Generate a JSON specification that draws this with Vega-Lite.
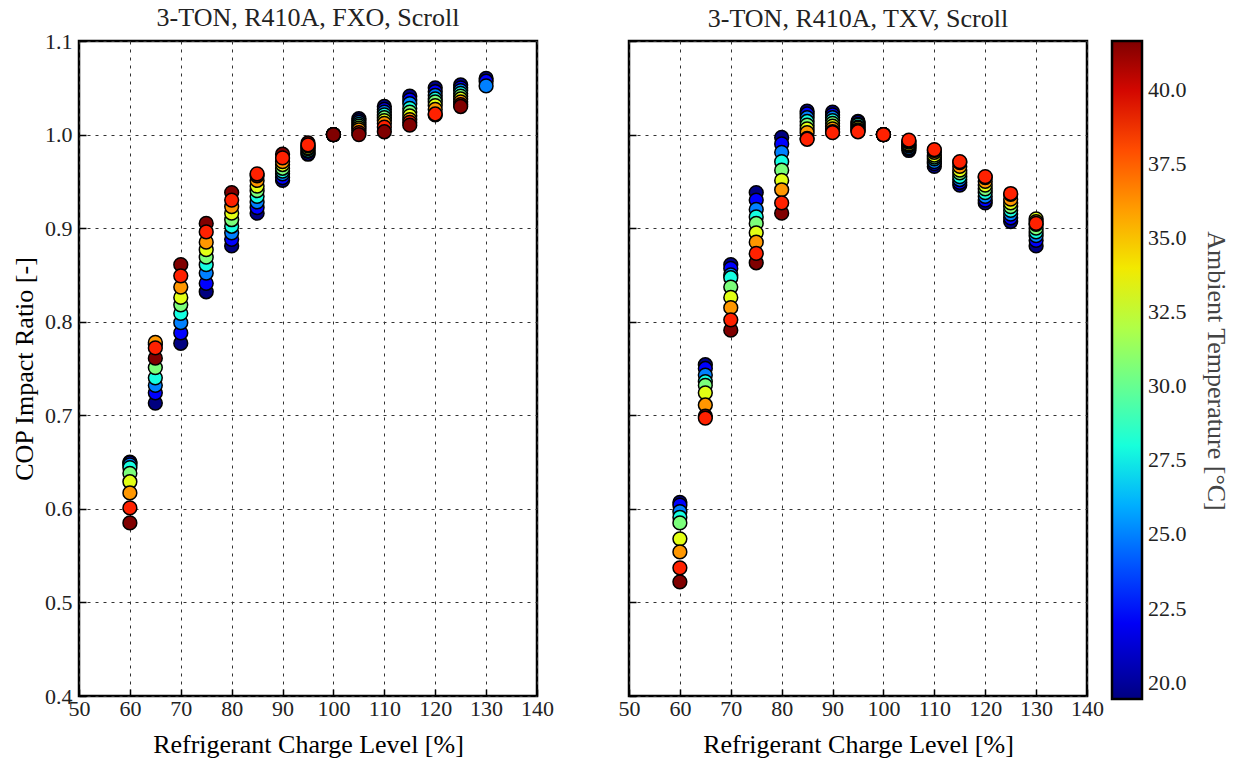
{
"$schema": "https://vega.github.io/schema/vega-lite/v6.json",
"background": "white",
"padding": {"left": 10, "top": 3, "right": 5, "bottom": 5},
"spacing": 61,
"config": {
  "font": "Liberation Serif",
  "view": {"stroke": "black", "strokeWidth": 2.5},
  "axis": {"labelFont": "Liberation Serif", "labelFontSize": 22, "labelColor": "#222", "labelFlush": false, "titleFont": "Liberation Serif", "titleFontSize": 26, "titleFontWeight": "normal", "titleColor": "black", "grid": true, "gridDash": [3, 5], "gridColor": "#333", "gridWidth": 1, "domain": false, "tickColor": "black", "tickSize": -7, "tickWidth": 1.5, "labelPadding": 9},
  "title": {"font": "Liberation Serif", "fontSize": 26, "fontWeight": "normal", "color": "#222", "frame": "group"},
  "legend": {"labelFont": "Liberation Serif", "titleFont": "Liberation Serif"}
},
"data": {"values": [
{"sys":"FXO","charge":60,"temp":19.44,"cop":0.650},{"sys":"FXO","charge":60,"temp":22.22,"cop":0.649},{"sys":"FXO","charge":60,"temp":25.0,"cop":0.647},{"sys":"FXO","charge":60,"temp":27.78,"cop":0.644},{"sys":"FXO","charge":60,"temp":30.56,"cop":0.638},{"sys":"FXO","charge":60,"temp":33.33,"cop":0.629},{"sys":"FXO","charge":60,"temp":36.11,"cop":0.617},{"sys":"FXO","charge":60,"temp":41.67,"cop":0.585},{"sys":"FXO","charge":60,"temp":38.89,"cop":0.601},
{"sys":"FXO","charge":65,"temp":19.44,"cop":0.713},{"sys":"FXO","charge":65,"temp":22.22,"cop":0.724},{"sys":"FXO","charge":65,"temp":25.0,"cop":0.732},{"sys":"FXO","charge":65,"temp":27.78,"cop":0.740},{"sys":"FXO","charge":65,"temp":30.56,"cop":0.751},{"sys":"FXO","charge":65,"temp":33.33,"cop":0.776},{"sys":"FXO","charge":65,"temp":36.11,"cop":0.778},{"sys":"FXO","charge":65,"temp":41.67,"cop":0.761},{"sys":"FXO","charge":65,"temp":38.89,"cop":0.772},
{"sys":"FXO","charge":70,"temp":19.44,"cop":0.777},{"sys":"FXO","charge":70,"temp":22.22,"cop":0.788},{"sys":"FXO","charge":70,"temp":25.0,"cop":0.799},{"sys":"FXO","charge":70,"temp":27.78,"cop":0.809},{"sys":"FXO","charge":70,"temp":30.56,"cop":0.818},{"sys":"FXO","charge":70,"temp":33.33,"cop":0.826},{"sys":"FXO","charge":70,"temp":36.11,"cop":0.837},{"sys":"FXO","charge":70,"temp":41.67,"cop":0.861},{"sys":"FXO","charge":70,"temp":38.89,"cop":0.849},
{"sys":"FXO","charge":75,"temp":19.44,"cop":0.832},{"sys":"FXO","charge":75,"temp":22.22,"cop":0.841},{"sys":"FXO","charge":75,"temp":25.0,"cop":0.852},{"sys":"FXO","charge":75,"temp":27.78,"cop":0.861},{"sys":"FXO","charge":75,"temp":30.56,"cop":0.869},{"sys":"FXO","charge":75,"temp":33.33,"cop":0.877},{"sys":"FXO","charge":75,"temp":36.11,"cop":0.885},{"sys":"FXO","charge":75,"temp":41.67,"cop":0.905},{"sys":"FXO","charge":75,"temp":38.89,"cop":0.896},
{"sys":"FXO","charge":80,"temp":19.44,"cop":0.881},{"sys":"FXO","charge":80,"temp":22.22,"cop":0.888},{"sys":"FXO","charge":80,"temp":25.0,"cop":0.895},{"sys":"FXO","charge":80,"temp":27.78,"cop":0.902},{"sys":"FXO","charge":80,"temp":30.56,"cop":0.909},{"sys":"FXO","charge":80,"temp":33.33,"cop":0.916},{"sys":"FXO","charge":80,"temp":36.11,"cop":0.923},{"sys":"FXO","charge":80,"temp":41.67,"cop":0.938},{"sys":"FXO","charge":80,"temp":38.89,"cop":0.930},
{"sys":"FXO","charge":85,"temp":19.44,"cop":0.916},{"sys":"FXO","charge":85,"temp":22.22,"cop":0.922},{"sys":"FXO","charge":85,"temp":25.0,"cop":0.928},{"sys":"FXO","charge":85,"temp":27.78,"cop":0.934},{"sys":"FXO","charge":85,"temp":30.56,"cop":0.940},{"sys":"FXO","charge":85,"temp":33.33,"cop":0.945},{"sys":"FXO","charge":85,"temp":36.11,"cop":0.951},{"sys":"FXO","charge":85,"temp":41.67,"cop":0.956},{"sys":"FXO","charge":85,"temp":38.89,"cop":0.958},
{"sys":"FXO","charge":90,"temp":19.44,"cop":0.951},{"sys":"FXO","charge":90,"temp":22.22,"cop":0.954},{"sys":"FXO","charge":90,"temp":25.0,"cop":0.958},{"sys":"FXO","charge":90,"temp":27.78,"cop":0.961},{"sys":"FXO","charge":90,"temp":30.56,"cop":0.964},{"sys":"FXO","charge":90,"temp":33.33,"cop":0.968},{"sys":"FXO","charge":90,"temp":36.11,"cop":0.971},{"sys":"FXO","charge":90,"temp":41.67,"cop":0.979},{"sys":"FXO","charge":90,"temp":38.89,"cop":0.975},
{"sys":"FXO","charge":95,"temp":19.44,"cop":0.979},{"sys":"FXO","charge":95,"temp":22.22,"cop":0.980},{"sys":"FXO","charge":95,"temp":25.0,"cop":0.982},{"sys":"FXO","charge":95,"temp":27.78,"cop":0.983},{"sys":"FXO","charge":95,"temp":30.56,"cop":0.985},{"sys":"FXO","charge":95,"temp":33.33,"cop":0.986},{"sys":"FXO","charge":95,"temp":36.11,"cop":0.988},{"sys":"FXO","charge":95,"temp":41.67,"cop":0.991},{"sys":"FXO","charge":95,"temp":38.89,"cop":0.989},
{"sys":"FXO","charge":100,"temp":19.44,"cop":1.0},{"sys":"FXO","charge":100,"temp":22.22,"cop":1.0},{"sys":"FXO","charge":100,"temp":25.0,"cop":1.0},{"sys":"FXO","charge":100,"temp":27.78,"cop":1.0},{"sys":"FXO","charge":100,"temp":30.56,"cop":1.0},{"sys":"FXO","charge":100,"temp":33.33,"cop":1.0},{"sys":"FXO","charge":100,"temp":36.11,"cop":1.0},{"sys":"FXO","charge":100,"temp":38.89,"cop":1.0},{"sys":"FXO","charge":100,"temp":41.67,"cop":1.0},
{"sys":"FXO","charge":105,"temp":19.44,"cop":1.017},{"sys":"FXO","charge":105,"temp":22.22,"cop":1.015},{"sys":"FXO","charge":105,"temp":25.0,"cop":1.013},{"sys":"FXO","charge":105,"temp":27.78,"cop":1.011},{"sys":"FXO","charge":105,"temp":30.56,"cop":1.009},{"sys":"FXO","charge":105,"temp":33.33,"cop":1.007},{"sys":"FXO","charge":105,"temp":36.11,"cop":1.005},{"sys":"FXO","charge":105,"temp":38.89,"cop":1.002},{"sys":"FXO","charge":105,"temp":41.67,"cop":1.000},
{"sys":"FXO","charge":110,"temp":19.44,"cop":1.030},{"sys":"FXO","charge":110,"temp":22.22,"cop":1.027},{"sys":"FXO","charge":110,"temp":25.0,"cop":1.024},{"sys":"FXO","charge":110,"temp":27.78,"cop":1.021},{"sys":"FXO","charge":110,"temp":30.56,"cop":1.018},{"sys":"FXO","charge":110,"temp":33.33,"cop":1.015},{"sys":"FXO","charge":110,"temp":36.11,"cop":1.012},{"sys":"FXO","charge":110,"temp":38.89,"cop":1.008},{"sys":"FXO","charge":110,"temp":41.67,"cop":1.003},
{"sys":"FXO","charge":115,"temp":19.44,"cop":1.041},{"sys":"FXO","charge":115,"temp":22.22,"cop":1.037},{"sys":"FXO","charge":115,"temp":25.0,"cop":1.033},{"sys":"FXO","charge":115,"temp":27.78,"cop":1.028},{"sys":"FXO","charge":115,"temp":30.56,"cop":1.024},{"sys":"FXO","charge":115,"temp":33.33,"cop":1.020},{"sys":"FXO","charge":115,"temp":36.11,"cop":1.016},{"sys":"FXO","charge":115,"temp":38.89,"cop":1.013},{"sys":"FXO","charge":115,"temp":41.67,"cop":1.010},
{"sys":"FXO","charge":120,"temp":19.44,"cop":1.050},{"sys":"FXO","charge":120,"temp":22.22,"cop":1.046},{"sys":"FXO","charge":120,"temp":25.0,"cop":1.042},{"sys":"FXO","charge":120,"temp":27.78,"cop":1.038},{"sys":"FXO","charge":120,"temp":30.56,"cop":1.035},{"sys":"FXO","charge":120,"temp":33.33,"cop":1.031},{"sys":"FXO","charge":120,"temp":36.11,"cop":1.027},{"sys":"FXO","charge":120,"temp":41.67,"cop":1.021},{"sys":"FXO","charge":120,"temp":38.89,"cop":1.022},
{"sys":"FXO","charge":125,"temp":19.44,"cop":1.053},{"sys":"FXO","charge":125,"temp":22.22,"cop":1.050},{"sys":"FXO","charge":125,"temp":25.0,"cop":1.047},{"sys":"FXO","charge":125,"temp":27.78,"cop":1.044},{"sys":"FXO","charge":125,"temp":30.56,"cop":1.041},{"sys":"FXO","charge":125,"temp":33.33,"cop":1.038},{"sys":"FXO","charge":125,"temp":36.11,"cop":1.035},{"sys":"FXO","charge":125,"temp":38.89,"cop":1.032},{"sys":"FXO","charge":125,"temp":41.67,"cop":1.030},
{"sys":"FXO","charge":130,"temp":19.44,"cop":1.060},{"sys":"FXO","charge":130,"temp":22.22,"cop":1.057},{"sys":"FXO","charge":130,"temp":25.0,"cop":1.052},
{"sys":"TXV","charge":60,"temp":19.44,"cop":0.607},{"sys":"TXV","charge":60,"temp":22.22,"cop":0.604},{"sys":"TXV","charge":60,"temp":25.0,"cop":0.597},{"sys":"TXV","charge":60,"temp":27.78,"cop":0.591},{"sys":"TXV","charge":60,"temp":30.56,"cop":0.585},{"sys":"TXV","charge":60,"temp":33.33,"cop":0.568},{"sys":"TXV","charge":60,"temp":36.11,"cop":0.554},{"sys":"TXV","charge":60,"temp":41.67,"cop":0.522},{"sys":"TXV","charge":60,"temp":38.89,"cop":0.537},
{"sys":"TXV","charge":65,"temp":19.44,"cop":0.754},{"sys":"TXV","charge":65,"temp":22.22,"cop":0.750},{"sys":"TXV","charge":65,"temp":25.0,"cop":0.743},{"sys":"TXV","charge":65,"temp":27.78,"cop":0.736},{"sys":"TXV","charge":65,"temp":30.56,"cop":0.732},{"sys":"TXV","charge":65,"temp":33.33,"cop":0.724},{"sys":"TXV","charge":65,"temp":36.11,"cop":0.711},{"sys":"TXV","charge":65,"temp":41.67,"cop":0.699},{"sys":"TXV","charge":65,"temp":38.89,"cop":0.697},
{"sys":"TXV","charge":70,"temp":19.44,"cop":0.861},{"sys":"TXV","charge":70,"temp":22.22,"cop":0.857},{"sys":"TXV","charge":70,"temp":25.0,"cop":0.850},{"sys":"TXV","charge":70,"temp":27.78,"cop":0.847},{"sys":"TXV","charge":70,"temp":30.56,"cop":0.837},{"sys":"TXV","charge":70,"temp":33.33,"cop":0.826},{"sys":"TXV","charge":70,"temp":36.11,"cop":0.815},{"sys":"TXV","charge":70,"temp":41.67,"cop":0.791},{"sys":"TXV","charge":70,"temp":38.89,"cop":0.802},
{"sys":"TXV","charge":75,"temp":19.44,"cop":0.938},{"sys":"TXV","charge":75,"temp":22.22,"cop":0.930},{"sys":"TXV","charge":75,"temp":25.0,"cop":0.920},{"sys":"TXV","charge":75,"temp":27.78,"cop":0.912},{"sys":"TXV","charge":75,"temp":30.56,"cop":0.905},{"sys":"TXV","charge":75,"temp":33.33,"cop":0.895},{"sys":"TXV","charge":75,"temp":36.11,"cop":0.885},{"sys":"TXV","charge":75,"temp":41.67,"cop":0.863},{"sys":"TXV","charge":75,"temp":38.89,"cop":0.873},
{"sys":"TXV","charge":80,"temp":19.44,"cop":0.997},{"sys":"TXV","charge":80,"temp":22.22,"cop":0.990},{"sys":"TXV","charge":80,"temp":25.0,"cop":0.981},{"sys":"TXV","charge":80,"temp":27.78,"cop":0.971},{"sys":"TXV","charge":80,"temp":30.56,"cop":0.962},{"sys":"TXV","charge":80,"temp":33.33,"cop":0.951},{"sys":"TXV","charge":80,"temp":36.11,"cop":0.941},{"sys":"TXV","charge":80,"temp":41.67,"cop":0.916},{"sys":"TXV","charge":80,"temp":38.89,"cop":0.927},
{"sys":"TXV","charge":85,"temp":19.44,"cop":1.025},{"sys":"TXV","charge":85,"temp":22.22,"cop":1.022},{"sys":"TXV","charge":85,"temp":25.0,"cop":1.018},{"sys":"TXV","charge":85,"temp":27.78,"cop":1.014},{"sys":"TXV","charge":85,"temp":30.56,"cop":1.010},{"sys":"TXV","charge":85,"temp":33.33,"cop":1.006},{"sys":"TXV","charge":85,"temp":36.11,"cop":1.002},{"sys":"TXV","charge":85,"temp":41.67,"cop":0.996},{"sys":"TXV","charge":85,"temp":38.89,"cop":0.995},
{"sys":"TXV","charge":90,"temp":19.44,"cop":1.024},{"sys":"TXV","charge":90,"temp":22.22,"cop":1.021},{"sys":"TXV","charge":90,"temp":25.0,"cop":1.018},{"sys":"TXV","charge":90,"temp":27.78,"cop":1.015},{"sys":"TXV","charge":90,"temp":30.56,"cop":1.012},{"sys":"TXV","charge":90,"temp":33.33,"cop":1.009},{"sys":"TXV","charge":90,"temp":36.11,"cop":1.006},{"sys":"TXV","charge":90,"temp":41.67,"cop":1.003},{"sys":"TXV","charge":90,"temp":38.89,"cop":1.002},
{"sys":"TXV","charge":95,"temp":19.44,"cop":1.014},{"sys":"TXV","charge":95,"temp":22.22,"cop":1.013},{"sys":"TXV","charge":95,"temp":25.0,"cop":1.011},{"sys":"TXV","charge":95,"temp":27.78,"cop":1.010},{"sys":"TXV","charge":95,"temp":30.56,"cop":1.008},{"sys":"TXV","charge":95,"temp":33.33,"cop":1.007},{"sys":"TXV","charge":95,"temp":36.11,"cop":1.005},{"sys":"TXV","charge":95,"temp":41.67,"cop":1.004},{"sys":"TXV","charge":95,"temp":38.89,"cop":1.003},
{"sys":"TXV","charge":100,"temp":19.44,"cop":1.0},{"sys":"TXV","charge":100,"temp":22.22,"cop":1.0},{"sys":"TXV","charge":100,"temp":25.0,"cop":1.0},{"sys":"TXV","charge":100,"temp":27.78,"cop":1.0},{"sys":"TXV","charge":100,"temp":30.56,"cop":1.0},{"sys":"TXV","charge":100,"temp":33.33,"cop":1.0},{"sys":"TXV","charge":100,"temp":36.11,"cop":1.0},{"sys":"TXV","charge":100,"temp":41.67,"cop":1.0},{"sys":"TXV","charge":100,"temp":38.89,"cop":1.0},
{"sys":"TXV","charge":105,"temp":19.44,"cop":0.983},{"sys":"TXV","charge":105,"temp":22.22,"cop":0.985},{"sys":"TXV","charge":105,"temp":25.0,"cop":0.986},{"sys":"TXV","charge":105,"temp":27.78,"cop":0.988},{"sys":"TXV","charge":105,"temp":30.56,"cop":0.989},{"sys":"TXV","charge":105,"temp":33.33,"cop":0.990},{"sys":"TXV","charge":105,"temp":36.11,"cop":0.992},{"sys":"TXV","charge":105,"temp":41.67,"cop":0.993},{"sys":"TXV","charge":105,"temp":38.89,"cop":0.994},
{"sys":"TXV","charge":110,"temp":19.44,"cop":0.966},{"sys":"TXV","charge":110,"temp":22.22,"cop":0.969},{"sys":"TXV","charge":110,"temp":25.0,"cop":0.971},{"sys":"TXV","charge":110,"temp":27.78,"cop":0.974},{"sys":"TXV","charge":110,"temp":30.56,"cop":0.976},{"sys":"TXV","charge":110,"temp":33.33,"cop":0.978},{"sys":"TXV","charge":110,"temp":36.11,"cop":0.981},{"sys":"TXV","charge":110,"temp":41.67,"cop":0.983},{"sys":"TXV","charge":110,"temp":38.89,"cop":0.984},
{"sys":"TXV","charge":115,"temp":19.44,"cop":0.946},{"sys":"TXV","charge":115,"temp":22.22,"cop":0.949},{"sys":"TXV","charge":115,"temp":25.0,"cop":0.952},{"sys":"TXV","charge":115,"temp":27.78,"cop":0.955},{"sys":"TXV","charge":115,"temp":30.56,"cop":0.959},{"sys":"TXV","charge":115,"temp":33.33,"cop":0.962},{"sys":"TXV","charge":115,"temp":36.11,"cop":0.966},{"sys":"TXV","charge":115,"temp":41.67,"cop":0.970},{"sys":"TXV","charge":115,"temp":38.89,"cop":0.971},
{"sys":"TXV","charge":120,"temp":19.44,"cop":0.927},{"sys":"TXV","charge":120,"temp":22.22,"cop":0.930},{"sys":"TXV","charge":120,"temp":25.0,"cop":0.934},{"sys":"TXV","charge":120,"temp":27.78,"cop":0.938},{"sys":"TXV","charge":120,"temp":30.56,"cop":0.942},{"sys":"TXV","charge":120,"temp":33.33,"cop":0.946},{"sys":"TXV","charge":120,"temp":36.11,"cop":0.950},{"sys":"TXV","charge":120,"temp":41.67,"cop":0.954},{"sys":"TXV","charge":120,"temp":38.89,"cop":0.955},
{"sys":"TXV","charge":125,"temp":19.44,"cop":0.907},{"sys":"TXV","charge":125,"temp":22.22,"cop":0.911},{"sys":"TXV","charge":125,"temp":25.0,"cop":0.915},{"sys":"TXV","charge":125,"temp":27.78,"cop":0.919},{"sys":"TXV","charge":125,"temp":30.56,"cop":0.923},{"sys":"TXV","charge":125,"temp":33.33,"cop":0.927},{"sys":"TXV","charge":125,"temp":36.11,"cop":0.931},{"sys":"TXV","charge":125,"temp":41.67,"cop":0.936},{"sys":"TXV","charge":125,"temp":38.89,"cop":0.937},
{"sys":"TXV","charge":130,"temp":19.44,"cop":0.881},{"sys":"TXV","charge":130,"temp":22.22,"cop":0.887},{"sys":"TXV","charge":130,"temp":25.0,"cop":0.892},{"sys":"TXV","charge":130,"temp":27.78,"cop":0.896},{"sys":"TXV","charge":130,"temp":30.56,"cop":0.900},{"sys":"TXV","charge":130,"temp":33.33,"cop":0.910},{"sys":"TXV","charge":130,"temp":36.11,"cop":0.907},{"sys":"TXV","charge":130,"temp":41.67,"cop":0.904},{"sys":"TXV","charge":130,"temp":38.89,"cop":0.905}
]},
"hconcat": [
  {
    "title": {"text": "3-TON, R410A, FXO, Scroll", "offset": -1},
    "width": 458, "height": 655,
    "transform": [{"filter": "datum.sys === 'FXO'"}],
    "mark": {"type": "point", "shape": "circle", "filled": true, "size": 190, "stroke": "black", "strokeWidth": 1.5, "opacity": 1},
    "encoding": {
      "x": {"field": "charge", "type": "quantitative", "scale": {"domain": [50, 140], "nice": false}, "axis": {"values": [50,60,70,80,90,100,110,120,130,140], "title": "Refrigerant Charge Level [%]", "titlePadding": 12}},
      "y": {"field": "cop", "type": "quantitative", "scale": {"domain": [0.4, 1.1], "nice": false, "zero": false}, "axis": {"values": [0.4,0.5,0.6,0.7,0.8,0.9,1.0,1.1], "format": ".1f", "title": "COP Impact Ratio [-]", "titlePadding": 7, "labelPadding": 14}},
      "fill": {"field": "temp", "type": "quantitative",
        "scale": {"domain": [19.444,20.833,22.222,23.611,25.0,26.389,27.778,29.167,30.556,31.944,33.333,34.722,36.111,37.5,38.889,40.278,41.667],
                  "range": ["#000080","#0000c8","#0000ff","#0040ff","#0080ff","#00bfff","#15ffe2","#48ffaf","#7bff7b","#afff48","#e2ff14","#ffd200","#ff9700","#ff5c00","#ff2100","#c80000","#800000"]},
        "legend": {"title": "Ambient Temperature [°C]", "type": "gradient", "direction": "vertical", "orient": "right", "offset": 7,
                   "gradientLength": 658, "gradientThickness": 30, "gradientStrokeColor": "black", "gradientStrokeWidth": 2.5,
                   "values": [20,22.5,25,27.5,30,32.5,35,37.5,40], "format": ".1f", "labelFontSize": 22, "labelColor": "#222", "labelOffset": 6,
                   "titleOrient": "right", "titleAngle": 270, "titleFontSize": 26, "titleFontWeight": "normal", "titleColor": "#444", "titleAnchor": "middle", "titlePadding": 16, "titleLimit": 2000}}
    }
  },
  {
    "title": {"text": "3-TON, R410A, TXV, Scroll", "offset": 8},
    "width": 458, "height": 655,
    "transform": [{"filter": "datum.sys === 'TXV'"}],
    "mark": {"type": "point", "shape": "circle", "filled": true, "size": 190, "stroke": "black", "strokeWidth": 1.5, "opacity": 1},
    "encoding": {
      "x": {"field": "charge", "type": "quantitative", "scale": {"domain": [50, 140], "nice": false}, "axis": {"values": [50,60,70,80,90,100,110,120,130,140], "title": "Refrigerant Charge Level [%]", "titlePadding": 12}},
      "y": {"field": "cop", "type": "quantitative", "scale": {"domain": [0.4, 1.1], "nice": false, "zero": false}, "axis": {"values": [0.4,0.5,0.6,0.7,0.8,0.9,1.0,1.1], "labels": false, "title": null}},
      "fill": {"field": "temp", "type": "quantitative"}
    }
  }
]
}
